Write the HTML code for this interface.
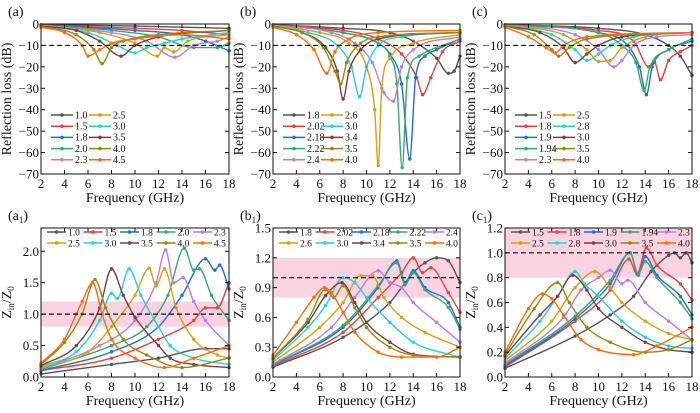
<!DOCTYPE html>
<html><head><meta charset="utf-8"><style>
html,body{margin:0;padding:0;background:#fff;}
svg{display:block;font-family:"Liberation Serif",serif;}
</style></head><body>
<svg id="fig" width="700" height="413" viewBox="0 0 700 413" xmlns="http://www.w3.org/2000/svg"></svg>
<script>
const colorsA = ["#555555","#e8413a","#1f6fd6","#3aa86b","#b77de8","#d4a017","#2ccfd0","#7a4040","#8c8c1a","#ff6a13"];
const freqTicks = [2,4,6,8,10,12,14,16,18];
const rlTicks = [0,-10,-20,-30,-40,-50,-60,-70];
const zTicksA = [0,0.5,1.0,1.5,2.0];
const zTicksB = [0,0.3,0.6,0.9,1.2,1.5];
const zTicksC = [0,0.2,0.4,0.6,0.8,1.0,1.2];

const labelsA = ["1.0","1.5","1.8","2.0","2.3","2.5","3.0","3.5","4.0","4.5"];
const labelsB = ["1.8","2.02","2.18","2.22","2.4","2.6","3.0","3.4","3.5","4.0"];
const labelsC = ["1.5","1.8","1.9","1.94","2.3","2.5","2.8","3.0","3.5","4.0"];

const rlA = [
[[2,-0.3],[10,-1],[18,-2]],
[[2,-0.5],[10,-2],[14,-3],[18,-5]],
[[2,-0.5],[10,-3],[14,-5],[16,-8],[18,-12.5]],
[[2,-0.6],[8,-3],[12,-6],[15,-11],[17,-11],[18,-9]],
[[2,-0.7],[8,-4],[11,-8],[13.4,-15.5],[15,-10],[17,-8],[18,-6]],
[[2,-0.8],[7,-4],[10,-9],[11.9,-15],[12.5,-11],[13.3,-13],[14.5,-8],[18,-5]],
[[2,-1],[6,-4],[8.5,-10],[10,-13.5],[11,-11],[12.5,-9],[14,-7],[18,-4]],
[[2,-1],[5,-3],[7,-8],[8.8,-15],[10,-10],[12,-6],[18,-3]],
[[2,-1.2],[5,-5],[6.5,-12],[7.2,-18.5],[8,-11],[9,-8],[12,-5],[18,-3]],
[[2,-1.5],[4,-4],[5.5,-10],[6,-15],[7,-12],[8,-9],[10,-7],[14,-5],[18,-7]]
];
const rlB = [
[[2,-0.3],[8,-2],[12,-4],[14,-8],[16,-16],[17,-23],[17.5,-22],[18,-15]],
[[2,-0.4],[8,-3],[11,-7],[13,-14],[14.3,-25],[14.8,-33],[15.5,-25],[16.5,-13],[18,-8]],
[[2,-0.5],[8,-4],[11,-9],[12,-14],[13,-28],[13.7,-63],[14.2,-25],[15,-15],[16,-12],[18,-7]],
[[2,-0.5],[8,-4],[11,-9],[12,-15],[12.6,-28],[13.05,-67],[13.5,-25],[14.5,-15],[18,-7]],
[[2,-0.6],[7,-4],[9,-9],[10.5,-18],[11.5,-32],[12.3,-36],[13,-20],[14,-12],[18,-6]],
[[2,-0.7],[6,-4],[8.5,-9],[10,-20],[10.7,-40],[11,-66],[11.3,-30],[12,-16],[14,-9],[18,-5]],
[[2,-0.8],[5,-4],[7.5,-10],[8.7,-20],[9.4,-34],[10,-20],[11,-10],[13,-6],[18,-4]],
[[2,-1],[4.5,-4],[6.5,-11],[7.5,-22],[8,-35],[8.5,-22],[9.5,-12],[11,-7],[18,-4]],
[[2,-1],[4.5,-4],[6.3,-11],[7.3,-22],[7.8,-28],[8.3,-18],[9.5,-9],[11,-6],[18,-4]],
[[2,-1.5],[4,-5],[5.5,-12],[6.6,-23],[7.3,-13],[8.5,-7],[11,-4],[18,-3]]
];
const rlC = [
[[2,-0.3],[10,-2],[14,-5],[16,-10],[17,-15],[18,-24]],
[[2,-0.4],[10,-3],[13,-8],[14.3,-20],[14.8,-18],[15.3,-26],[16,-17],[17,-13],[18,-10]],
[[2,-0.5],[10,-4],[12.5,-10],[13.5,-20],[14.1,-33],[14.6,-20],[16,-12],[18,-8]],
[[2,-0.5],[10,-4],[12,-10],[13.2,-18],[13.9,-31],[14.4,-20],[16,-12],[18,-7]],
[[2,-0.6],[8,-5],[10,-12],[11.3,-20],[12,-17],[13,-10],[15,-6],[18,-5]],
[[2,-0.7],[7,-5],[9,-12],[10,-17.5],[11,-17],[12,-11],[14,-6],[18,-4]],
[[2,-0.8],[6,-5],[8,-12],[9,-17],[10,-14],[11,-10],[13,-6],[18,-4]],
[[2,-1],[5,-4],[7,-11],[8,-18],[9,-14],[10,-10],[12,-6],[18,-4]],
[[2,-1],[4.5,-5],[6,-12],[6.6,-15],[7.5,-11],[9,-7],[18,-4]],
[[2,-1.5],[4,-6],[5.5,-11],[6.3,-13.5],[7,-10],[9,-6],[18,-4]]
];
const zA = [
[[2,0.05],[8,0.2],[12,0.3],[16,0.45],[18,0.45]],
[[2,0.1],[8,0.3],[12,0.6],[15,0.9],[16,1.1],[17,1.1],[18,1.5]],
[[2,0.1],[8,0.4],[12,0.8],[14,1.3],[16,1.88],[16.8,1.7],[17.2,1.78],[18,1.4]],
[[2,0.12],[8,0.5],[11,0.8],[12.8,1.3],[14.2,2.05],[15,1.7],[15.5,1.72],[16.5,1.3],[18,0.9]],
[[2,0.13],[7,0.5],[10,0.9],[11.8,1.5],[12.6,2.02],[13.3,1.5],[14.1,1.58],[15,1.2],[16,0.9],[18,0.5]],
[[2,0.15],[6,0.4],[8,0.8],[10,1.3],[11.2,1.73],[11.8,1.45],[12.5,1.72],[13.5,1.1],[15,0.6],[17,0.35],[18,0.3]],
[[2,0.17],[5,0.4],[7,0.9],[8,1.33],[8.5,1.25],[9.5,1.72],[10.5,1.3],[12,0.8],[13,0.5],[15,0.3],[18,0.2]],
[[2,0.18],[5,0.5],[7,1.1],[8,1.72],[9,1.3],[10,0.95],[12,0.5],[13,0.3],[15,0.2],[18,0.15]],
[[2,0.2],[4,0.55],[5.5,1.0],[6.6,1.55],[7.5,1.1],[9,0.6],[11,0.35],[14,0.15],[18,0.3]],
[[2,0.22],[4,0.6],[5,1.0],[5.5,1.2],[6.4,1.5],[7.2,1.0],[8,0.6],[10,0.3],[12.5,0.15],[15,0.3],[18,0.5]]
];
const zB = [
[[2,0.1],[8,0.4],[12,0.75],[13,0.9],[14,1.05],[15,1.15],[16,1.2],[17,1.17],[18,0.95]],
[[2,0.11],[8,0.45],[11,0.8],[13,1.05],[14,1.2],[14.8,1.05],[15.5,1.1],[17,0.85],[18,0.65]],
[[2,0.12],[8,0.5],[11,0.9],[12.6,1.17],[13.3,0.95],[14,1.07],[15,0.9],[17,0.75],[18,0.5]],
[[2,0.12],[8,0.52],[11,0.92],[12.6,1.15],[13.3,0.93],[14,1.05],[15,0.88],[17,0.7],[18,0.48]],
[[2,0.13],[7,0.5],[9,0.8],[11,1.07],[12,0.95],[13,0.9],[14,0.75],[16,0.55],[18,0.35]],
[[2,0.15],[6,0.5],[8,0.75],[9.5,1.02],[10.5,1.02],[11.5,0.8],[13,0.6],[15,0.45],[18,0.3]],
[[2,0.17],[5,0.5],[6.5,0.72],[8,1.0],[9,0.95],[10,0.8],[12,0.55],[14,0.35],[18,0.2]],
[[2,0.19],[5,0.55],[6.5,0.82],[7.9,0.95],[9,0.75],[10,0.55],[12,0.35],[14,0.23],[18,0.2]],
[[2,0.19],[5,0.58],[6.5,0.88],[7.2,0.8],[8,0.92],[9,0.7],[10,0.5],[12,0.3],[14,0.22],[18,0.2]],
[[2,0.22],[4,0.55],[5.5,0.8],[6.4,0.9],[7,0.85],[8,0.65],[9,0.45],[11,0.25],[13,0.2],[16,0.2],[18,0.3]]
];
const zC = [
[[2,0.07],[8,0.33],[11,0.5],[13,0.65],[14.5,0.85],[16,0.98],[16.5,1.0],[17,0.96],[17.5,1.0],[18,0.92]],
[[2,0.08],[8,0.45],[11,0.7],[12.6,0.95],[13.3,0.83],[14.1,1.04],[15,0.9],[17,0.75],[18,0.62]],
[[2,0.09],[8,0.47],[11,0.75],[12.7,1.0],[13.4,0.82],[14,0.97],[15,0.82],[17,0.65],[18,0.5]],
[[2,0.1],[8,0.49],[11,0.78],[12.7,1.0],[13.4,0.83],[14,0.93],[15,0.8],[17,0.6],[18,0.47]],
[[2,0.11],[7,0.48],[8.5,0.7],[10,0.8],[11,0.86],[12,0.75],[12.5,0.78],[14,0.6],[16,0.45],[18,0.3]],
[[2,0.13],[6,0.45],[8,0.72],[9.7,0.85],[11,0.72],[12,0.6],[14,0.45],[16,0.35],[18,0.3]],
[[2,0.15],[5,0.45],[6.5,0.65],[8,0.85],[8.8,0.75],[10,0.65],[12,0.45],[14,0.32],[16,0.25],[18,0.23]],
[[2,0.17],[5,0.5],[6.5,0.65],[7.8,0.82],[9,0.7],[10,0.55],[12,0.4],[14,0.28],[16,0.22],[18,0.2]],
[[2,0.18],[4.5,0.55],[6.5,0.76],[7.5,0.6],[9,0.4],[11,0.28],[14,0.2],[16,0.22],[18,0.3]],
[[2,0.2],[4,0.55],[5.2,0.67],[6,0.63],[7,0.5],[8.5,0.3],[10,0.22],[13,0.18],[15,0.25],[18,0.4]]
];

const NS="http://www.w3.org/2000/svg";
const svg=document.getElementById('fig');
function mk(tag,attrs,parent){const e=document.createElementNS(NS,tag);for(const k in attrs)e.setAttribute(k,attrs[k]);(parent||svg).appendChild(e);return e;}
function txt(s,x,y,size,anchor,parent){const t=mk('text',{x:x,y:y,'font-size':size,'text-anchor':anchor||'middle',fill:'#111'},parent);t.textContent=s;return t;}

function monoPath(P){
  const n=P.length;if(n<2)return '';
  const d=[],m=[];
  for(let i=0;i<n-1;i++)d.push((P[i+1][1]-P[i][1])/(P[i+1][0]-P[i][0]));
  m[0]=d[0];m[n-1]=d[n-2];
  for(let i=1;i<n-1;i++){m[i]=(d[i-1]*d[i]<=0)?0:(d[i-1]+d[i])/2;}
  for(let i=0;i<n-1;i++){if(d[i]===0){m[i]=0;m[i+1]=0;continue;}
    const a=m[i]/d[i],b=m[i+1]/d[i],s=a*a+b*b;if(s>9){const t=3/Math.sqrt(s);m[i]=t*a*d[i];m[i+1]=t*b*d[i];}}
  let s='M'+P[0][0].toFixed(1)+','+P[0][1].toFixed(1);
  for(let i=0;i<n-1;i++){const h=(P[i+1][0]-P[i][0])/3;
    s+=` C${(P[i][0]+h).toFixed(1)},${(P[i][1]+m[i]*h).toFixed(1)} ${(P[i+1][0]-h).toFixed(1)},${(P[i+1][1]-m[i+1]*h).toFixed(1)} ${P[i+1][0].toFixed(1)},${P[i+1][1].toFixed(1)}`;}
  return s;
}

function panel(cfg){
  const g=mk('g',{});
  
  
  const X0=cfg.x0,X1=cfg.x1,Y0=cfg.y0,Y1=cfg.y1;
  const sx=f=>X0+(f-2)/16*(X1-X0);
  const sy=v=>Y1-(v-cfg.ymin)/(cfg.ymax-cfg.ymin)*(Y1-Y0);
  if(cfg.band){const b=mk('rect',{x:X0,y:sy(cfg.band[1]),width:X1-X0,height:sy(cfg.band[0])-sy(cfg.band[1]),fill:'#f9d3e2'},g);
    
    }
  cfg.data.forEach((ser,i)=>{
    const sg=mk('g',{},g);
    
    
    const P=ser.map(p=>[sx(p[0]),sy(p[1])]);
    mk('path',{d:monoPath(P),fill:'none',stroke:colorsA[i],'stroke-width':1.4},sg);
    P.forEach(p=>mk('circle',{cx:p[0],cy:p[1],r:1.7,fill:colorsA[i]},sg));
  });
  const d=mk('line',{x1:X0,x2:X1,y1:sy(cfg.dash),y2:sy(cfg.dash),stroke:'#111','stroke-width':1.2,'stroke-dasharray':'5,3'},g);
  
  
  const fr=mk('rect',{x:X0,y:Y0,width:X1-X0,height:Y1-Y0,fill:'none',stroke:'#111','stroke-width':1},g);
  
  
  freqTicks.forEach(f=>{mk('line',{x1:sx(f),x2:sx(f),y1:Y1,y2:Y1-4,stroke:'#111'},g);mk('line',{x1:sx(f),x2:sx(f),y1:Y0,y2:Y0+4,stroke:'#111'},g);
    const t=txt(String(f),sx(f),Y1+14,13,'middle',g);
    
    });
  cfg.yticks.forEach(v=>{mk('line',{x1:X0,x2:X0+4,y1:sy(v),y2:sy(v),stroke:'#111'},g);mk('line',{x1:X1,x2:X1-4,y1:sy(v),y2:sy(v),stroke:'#111'},g);
    const t=txt(cfg.fmt(v),X0-2,sy(v)+4.5,13,'end',g);
    
    });
  const xt=txt('Frequency (GHz)',(X0+X1)/2,Y1+28,14,'middle',g);
  
  
  const yt=mk('text',{x:0,y:0,'font-size':14,'text-anchor':'middle',fill:'#111',transform:`translate(${X0-30},${(Y0+Y1)/2}) rotate(-90)`},g);
  
  
  if(cfg.z){yt.innerHTML='Z<tspan font-size="9" dy="3">in</tspan><tspan dy="-3">/Z</tspan><tspan font-size="9" dy="3">0</tspan>';}
  else yt.textContent='Reflection loss (dB)';
  const pl=mk('text',{x:X0-33,y:Y0-8,'font-size':14,fill:'#111'},g);
  
  
  pl.innerHTML=cfg.z?'('+cfg.letter+'<tspan font-size="9" dy="3">1</tspan><tspan dy="-3">)</tspan>':'('+cfg.letter+')';
  cfg.labels.forEach((lab,i)=>{
    let lx,ly,lw;
    if(cfg.z){lx=X0+6+(i%5)*36.5;ly=Y0+4+Math.floor(i/5)*11;lw=19;}
    else{lx=X0+10+Math.floor(i/5)*38;ly=Y0+91+(i%5)*11.2;lw=22;}
    const lg=mk('g',{},g);
    
    
    mk('line',{x1:lx,x2:lx+lw,y1:ly,y2:ly,stroke:colorsA[i],'stroke-width':1.5},lg);
    mk('circle',{cx:lx+lw/2,cy:ly,r:1.8,fill:colorsA[i]},lg);
    txt(lab,lx+lw+2,ly+3.3,cfg.z?9.5:10,'start',lg);
  });
}
const f0=v=>v===0?'0':'\u2212'+Math.abs(v);
const f1=v=>v.toFixed(1);
panel({name:'panel-a',letter:'a',x0:41,x1:229,y0:24,y1:174,ymin:-70,ymax:0,yticks:rlTicks,fmt:f0,data:rlA,labels:labelsA,dash:-10});
panel({name:'panel-b',letter:'b',x0:273,x1:460,y0:24,y1:174,ymin:-70,ymax:0,yticks:rlTicks,fmt:f0,data:rlB,labels:labelsB,dash:-10});
panel({name:'panel-c',letter:'c',x0:505,x1:692,y0:24,y1:174,ymin:-70,ymax:0,yticks:rlTicks,fmt:f0,data:rlC,labels:labelsC,dash:-10});
panel({name:'panel-a1',letter:'a',z:true,x0:41,x1:229,y0:228,y1:377,ymin:0,ymax:2.37,yticks:zTicksA,fmt:f1,data:zA,labels:labelsA,dash:1,band:[0.8,1.2]});
panel({name:'panel-b1',letter:'b',z:true,x0:273,x1:460,y0:228,y1:377,ymin:0,ymax:1.5,yticks:zTicksB,fmt:f1,data:zB,labels:labelsB,dash:1,band:[0.8,1.2]});
panel({name:'panel-c1',letter:'c',z:true,x0:505,x1:692,y0:228,y1:377,ymin:0,ymax:1.2,yticks:zTicksC,fmt:f1,data:zC,labels:labelsC,dash:1,band:[0.8,1.2]});
</script>
</body></html>
